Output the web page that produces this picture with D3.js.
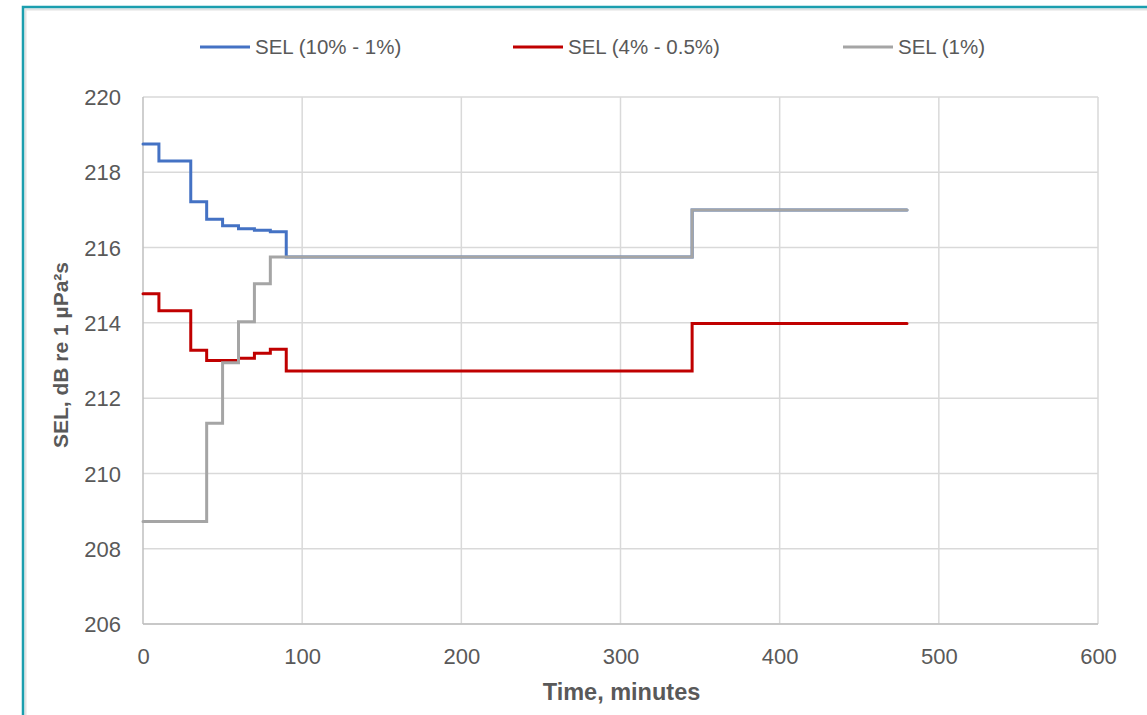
<!DOCTYPE html>
<html><head><meta charset="utf-8">
<script src="https://cdn.jsdelivr.net/npm/d3@7"></script>
<style>
html,body{margin:0;padding:0;background:#fff;}
svg{display:block;}
text{font-family:"Liberation Sans Narrow","Arial Narrow","Liberation Sans",sans-serif;}
</style></head><body>
<svg id="chart" width="1147" height="715"></svg>
<script>
// Data
const seriesNames = ["SEL (10% - 1%)", "SEL (4% - 0.5%)", "SEL (1%)"];
const seriesColors = ["#4472c4", "#c00000", "#a5a5a5"];
const times = [0, 10, 30, 40, 50, 60, 70, 80, 90, 345, 480];
const selBlue = [218.75, 218.30, 217.22, 216.75, 216.58, 216.50, 216.46, 216.42, 215.75, 217.0, 217.0];
const selRed  = [214.77, 214.32, 213.27, 213.00, 213.00, 213.06, 213.19, 213.30, 212.72, 213.98, 213.98];
const grayTimes = [0, 40, 50, 60, 70, 80, 90, 345, 480];
const selGray = [208.72, 211.33, 212.94, 214.03, 215.04, 215.75, 215.75, 217.0, 217.0];
const xTicks = [0, 100, 200, 300, 400, 500, 600];
const yTicks = [206, 208, 210, 212, 214, 216, 218, 220];

const svg = d3.select("#chart");
const W = 1147, H = 715;
const m = {left: 143, right: 1098, top: 97, bottom: 624};

// frame
svg.append("rect").attr("x", 25.5).attr("y", 9.5).attr("width", W + 10).attr("height", H + 10)
  .attr("fill", "none").attr("stroke", "#e2e2e2").attr("stroke-width", 2);
svg.append("rect").attr("x", 23).attr("y", 7).attr("width", W + 10).attr("height", H + 10)
  .attr("fill", "none").attr("stroke", "#1b9eae").attr("stroke-width", 2.5);

const x = d3.scaleLinear().domain([0, 600]).range([m.left, m.right]);
const y = d3.scaleLinear().domain([206, 220]).range([m.bottom, m.top]);

// gridlines
svg.append("g").selectAll("line").data(yTicks).join("line")
  .attr("x1", m.left).attr("x2", m.right)
  .attr("y1", d => y(d)).attr("y2", d => y(d))
  .attr("stroke", "#d9d9d9").attr("stroke-width", 1.5);
svg.append("g").selectAll("line").data(xTicks).join("line")
  .attr("y1", m.top).attr("y2", m.bottom)
  .attr("x1", d => x(d)).attr("x2", d => x(d))
  .attr("stroke", d => d === 0 ? "#bfbfbf" : "#d9d9d9").attr("stroke-width", 1.5);
svg.append("line").attr("x1", m.left).attr("x2", m.right).attr("y1", y(206)).attr("y2", y(206))
  .attr("stroke", "#bfbfbf").attr("stroke-width", 1.5);

// axes labels via d3 axes
const xAxis = d3.axisBottom(x).tickValues(xTicks).tickSize(0).tickPadding(0).tickFormat(d3.format("d"));
const gx = svg.append("g").attr("transform", `translate(0,${m.bottom + 32})`).call(xAxis);
gx.select(".domain").remove();
gx.selectAll("text").attr("fill", "#595959").style("font-size", "22px").attr("dy", "0.35em");

const yAxis = d3.axisLeft(y).tickValues(yTicks).tickSize(0).tickPadding(0).tickFormat(d3.format("d"));
const gy = svg.append("g").attr("transform", `translate(${m.left - 22},0)`).call(yAxis);
gy.select(".domain").remove();
gy.selectAll("text").attr("fill", "#595959").style("font-size", "22px").attr("dy", "0.35em");

// titles
svg.append("text").attr("x", (m.left + m.right) / 2 + 1).attr("y", 700)
  .attr("text-anchor", "middle").attr("fill", "#595959")
  .style("font-size", "23.5px").style("font-weight", "bold").text("Time, minutes");
svg.append("text").attr("transform", `translate(68,355) rotate(-90)`)
  .attr("text-anchor", "middle").attr("fill", "#595959")
  .style("font-size", "21px").style("font-weight", "bold").text("SEL, dB re 1 µPa²s");

// lines
const line = d3.line().x(d => x(d[0])).y(d => y(d[1])).curve(d3.curveStepAfter);
const dataSets = [
  d3.zip(times, selBlue),
  d3.zip(times, selRed),
  d3.zip(grayTimes, selGray)
];
dataSets.forEach((ds, i) => {
  svg.append("path").datum(ds).attr("d", line)
    .attr("fill", "none").attr("stroke", seriesColors[i]).attr("stroke-width", 3)
    .attr("stroke-linejoin", "miter").attr("stroke-linecap", "round");
});

// legend
const legendX = [200, 513, 843];
const lg = svg.append("g");
seriesNames.forEach((n, i) => {
  lg.append("line").attr("x1", legendX[i]).attr("x2", legendX[i] + 50)
    .attr("y1", 47).attr("y2", 47).attr("stroke", seriesColors[i]).attr("stroke-width", 3);
  lg.append("text").attr("x", legendX[i] + 55).attr("y", 47).attr("dy", "0.35em")
    .attr("fill", "#595959").style("font-size", "20.5px").text(n);
});
</script>
</body></html>
